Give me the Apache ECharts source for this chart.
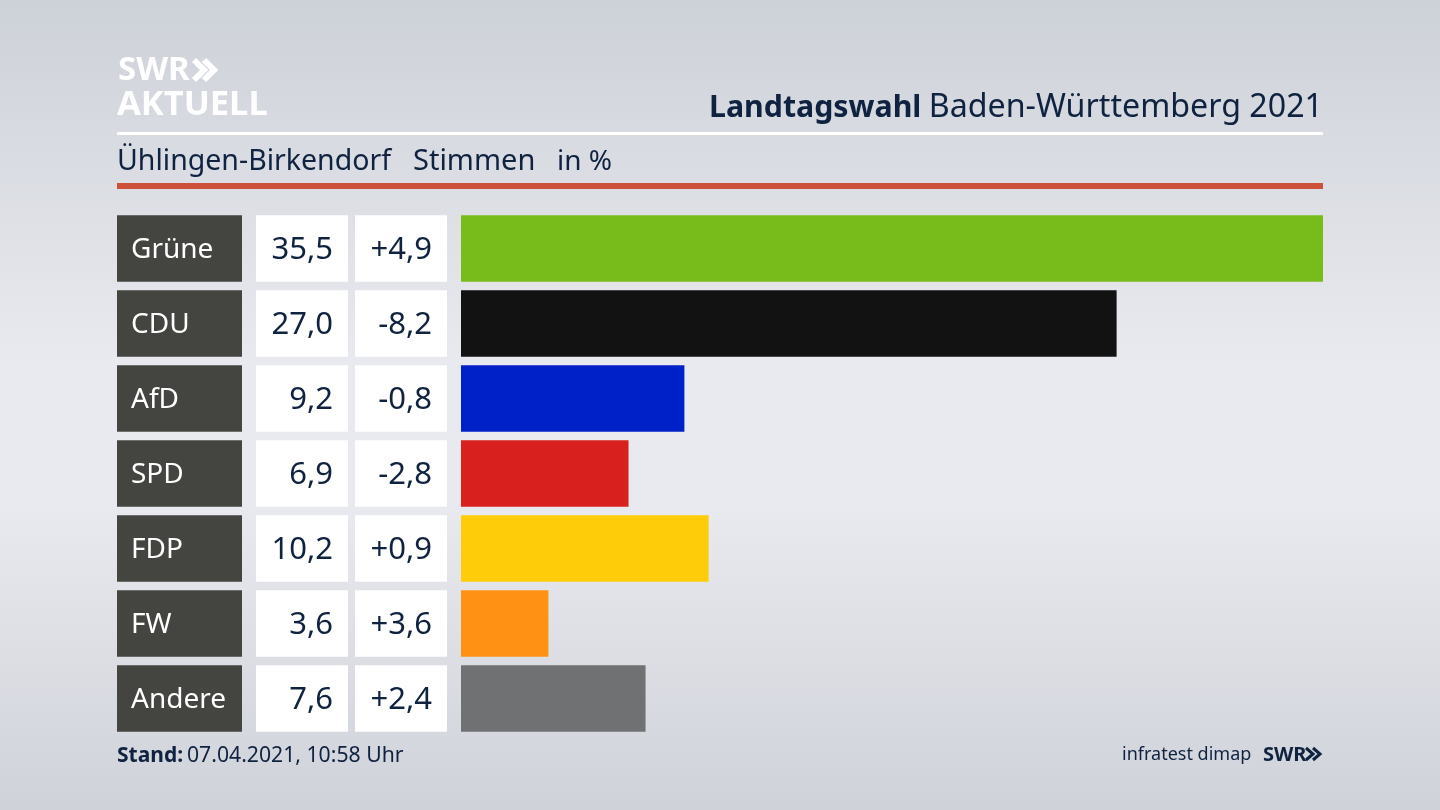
<!DOCTYPE html>
<html>
<head>
<meta charset="utf-8">
<title>Landtagswahl Baden-Württemberg 2021</title>
<script src="https://cdn.jsdelivr.net/npm/echarts@6/dist/echarts.min.js"></script>
<style>
  html, body { margin: 0; padding: 0; }
  #chart { width: 1440px; height: 810px; }
</style>
</head>
<body>
<div id="chart"></div>
<script>
const parties = ["Grüne", "CDU", "AfD", "SPD", "FDP", "FW", "Andere"];
const shares = [35.5, 27.0, 9.2, 6.9, 10.2, 3.6, 7.6];
const changes = ["+4,9", "-8,2", "-0,8", "-2,8", "+0,9", "+3,6", "+2,4"];
const party_colors = ["#78bc1b", "#121212", "#0021c8", "#d8201e", "#ffcc09", "#ff9214", "#707173"];

const FONT = '"Noto Sans", sans-serif';
const NAVY = "#0f2240";
const BAND_TOP = 211;
const BAND_H = 525;
const BAR_H = 66.3;

// one table column: a full-width bar per row, text as its label
const column_grids = [
    { left: 117, width: 125 },
    { left: 256, width: 92 },
    { left: 355, width: 92 },
];

function text_el(text, x, y, size, color, weight, align) {
    return {
        type: "text", x, y,
        style: {
            text, fill: color, font: `${weight || "normal"} ${size}px ${FONT}`,
            textAlign: align || "left", textVerticalAlign: "middle",
        },
    };
}

function rect_el(x, y, width, height, fill) {
    return { type: "rect", shape: { x, y, width, height }, style: { fill } };
}

function chevrons(x, y, h, w, stroke, color) {
    return [0, 1].map((i) => ({
        type: "polyline",
        shape: { points: [[x + i * w, y], [x + i * w + w, y + h / 2], [x + i * w, y + h]] },
        style: { stroke: color, lineWidth: stroke, fill: "none" },
    }));
}

function cell_series(index, color, text_of, label_opts) {
    return {
        type: "bar",
        xAxisIndex: index,
        yAxisIndex: index,
        barWidth: BAR_H,
        silent: true,
        data: parties.map(() => 1),
        itemStyle: { color },
        label: {
            show: true,
            formatter: (p) => text_of(p.dataIndex),
            fontFamily: FONT,
            offset: [0, 2],
            ...label_opts,
        },
    };
}

const chart = echarts.init(document.getElementById("chart"), null, { renderer: "canvas" });

const grids = [...column_grids, { left: 461, width: 862 }].map((g) => ({
    ...g, top: BAND_TOP, height: BAND_H, containLabel: false,
}));

chart.setOption({
    animation: false,
    backgroundColor: {
        type: "linear", x: 0, y: 0, x2: 0, y2: 1,
        colorStops: [
            { offset: 0, color: "#cdd1d8" },
            { offset: 0.45, color: "#e9eaef" },
            { offset: 0.62, color: "#e9eaef" },
            { offset: 1, color: "#cfd2d9" },
        ],
    },
    grid: grids,
    xAxis: grids.map((g, i) => ({
        gridIndex: i, type: "value", min: 0, max: i === 3 ? shares[0] : 1, show: false,
    })),
    yAxis: grids.map((g, i) => ({
        gridIndex: i, type: "category", inverse: true, data: parties, show: false,
    })),
    series: [
        cell_series(0, "#444441", (i) => parties[i], { position: "insideLeft", distance: 14, color: "#ffffff", fontSize: 28 }),
        cell_series(1, "#ffffff", (i) => shares[i].toFixed(1).replace(".", ","), { position: "insideRight", distance: 15, color: NAVY, fontSize: 31 }),
        cell_series(2, "#ffffff", (i) => changes[i], { position: "insideRight", distance: 15, color: NAVY, fontSize: 31 }),
        {
            type: "bar",
            xAxisIndex: 3,
            yAxisIndex: 3,
            barWidth: BAR_H,
            silent: true,
            data: shares.map((v, i) => ({ value: v, itemStyle: { color: party_colors[i] } })),
        },
    ],
    graphic: [
        text_el("SWR", 118, 71, 33, "#ffffff", "bold"),
        ...chevrons(194, 60, 20, 10, 6, "#ffffff"),
        text_el("AKTUELL", 117, 105, 34.5, "#ffffff", "bold"),
        text_el("Landtagswahl", 709, 108, 30.3, NAVY, "bold"),
        text_el("Baden-Württemberg 2021", 1323, 108, 32.2, NAVY, "normal", "right"),
        rect_el(117, 132, 1206, 3, "#ffffff"),
        text_el("Ühlingen-Birkendorf", 117, 162, 28.5, NAVY),
        text_el("Stimmen", 413, 162, 29, NAVY),
        text_el("in %", 557, 162, 28, NAVY),
        rect_el(117, 183, 1206, 6, "#cd5038"),
        text_el("Stand:", 117, 756, 21, NAVY, "bold"),
        text_el("07.04.2021, 10:58 Uhr", 187, 756, 21.2, NAVY),
        text_el("infratest dimap", 1122, 755, 18, NAVY),
        text_el("SWR", 1263, 755, 20, NAVY, "bold"),
        ...chevrons(1306, 748, 12, 7, 3, NAVY),
    ],
});
</script>
</body>
</html>
